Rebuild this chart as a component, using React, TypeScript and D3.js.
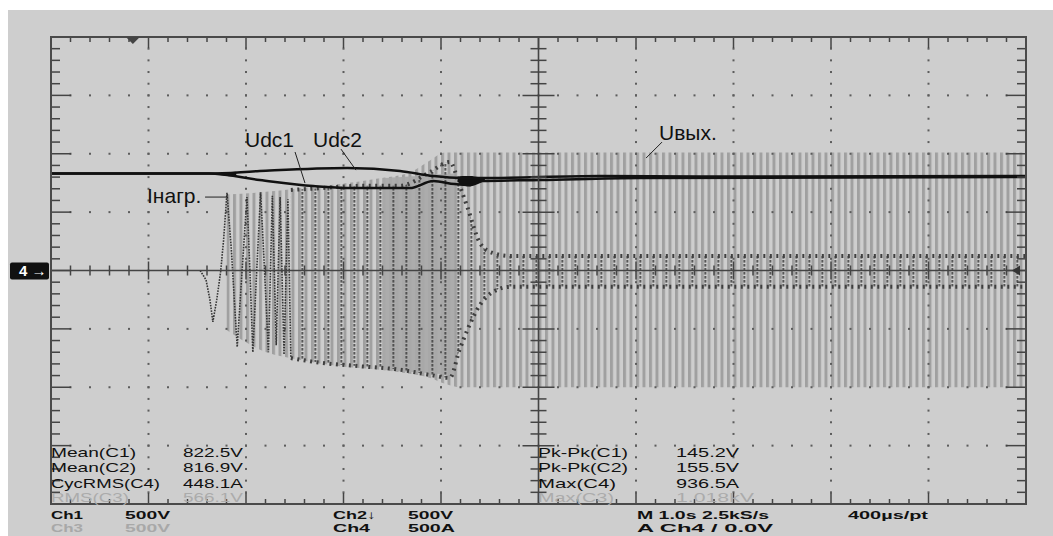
import React, { useRef, useEffect } from "react";
import * as d3 from "d3";

// scope: 1 s/div over 10 div, Ch1..Ch3 500 V/div, Ch4 500 A/div (0 at centre)
const udc1T = [0, 1.62, 2.14, 2.69, 3.07, 3.68, 3.92, 4.14, 4.3, 4.4, 5.02, 6.04, 10];
const udc1V = [830, 830, 775, 723, 706, 706, 766, 740, 732, 766, 775, 792, 800];
const udc2T = [0, 1.62, 2.14, 3.04, 3.58, 3.92, 4.2, 4.4, 5.63, 6.66, 10];
const udc2V = [830, 830, 852, 877, 852, 809, 792, 792, 809, 805, 809];

// dark patches where the two dc traces overlap
const blobT = [4.17, 4.22, 4.3, 4.38, 4.45];
const blobHi = [800, 810, 810, 800, 790];
const blobLo = [760, 730, 720, 740, 770];
const wedgeT = [1.62, 1.75, 1.9];
const wedgeHi = [830, 838, 845];
const wedgeLo = [830, 815, 800];

// output voltage (Ch3) envelope
const uoutT = [1.8, 2.15, 2.55, 2.96, 3.37, 3.68, 3.89, 4.04, 4.2, 10];
const uoutMax = [650, 670, 705, 740, 790, 840, 945, 1010, 1010, 1010];
const uoutMin = [-510, -680, -765, -820, -850, -885, -920, -970, -1000, -1000];

// dense (solid) part of the output voltage
const denseT = [3.4, 3.6, 3.9, 4.14];
const denseMax = [790, 800, 820, 830];
const denseMin = [-850, -865, -880, -900];

// load current (Ch4): first cycles, then envelope
const iEarlyT = [1.53, 1.59, 1.63, 1.66, 1.7, 1.74, 1.77, 1.805, 1.85, 1.88, 1.91, 1.96, 2.01, 2.04, 2.07, 2.11, 2.15, 2.19, 2.23, 2.27, 2.31, 2.35, 2.39, 2.43, 2.46];
const iEarlyA = [0, -80, -250, -440, -250, -10, 260, 665, 175, -250, -655, 0, 630, 0, -700, 0, 670, 0, -700, 640, -640, 630, -720, 610, -750];
const iEnvT = [2.46, 2.76, 3.17, 3.58, 3.89, 4.09, 4.19, 4.27, 4.4, 4.53, 4.71, 5.02, 10];
const iEnvMax = [690, 705, 725, 725, 845, 930, 730, 545, 235, 150, 125, 125, 125];
const iEnvMin = [-750, -790, -820, -850, -895, -920, -680, -510, -295, -185, -140, -140, -140];

const measLeft = ["Mean(C1)", "Mean(C2)", "CycRMS(C4)", "RMS(C3)"];
const measLeftVal = ["822.5V", "816.9V", "448.1A", "566.1V"];
const measRight = ["Pk-Pk(C1)", "Pk-Pk(C2)", "Max(C4)", "Max(C3)"];
const measRightVal = ["145.2V", "155.5V", "936.5A", "1.018kV"];

const FONT = "'Liberation Sans', Arial, sans-serif";

const App = () => {
  const svgRef = useRef(null);

  useEffect(() => {
    const width = 1053;
    const height = 536;
    const m = { left: 51, right: 1026, top: 37, bottom: 504 };
    const svg = d3.select(svgRef.current);
    svg.selectAll("*").remove();
    svg.attr("width", width).attr("height", height);

    const x = d3.scaleLinear().domain([0, 10]).range([m.left, m.right]);
    const y = d3.scaleLinear().domain([-2000, 2000]).range([m.bottom, m.top]);

    svg.append("rect").attr("width", width).attr("height", height).attr("fill", "#fff");
    svg.append("rect").attr("x", 8).attr("y", 10).attr("width", width - 8).attr("height", height - 10).attr("fill", "#cecece");

    const defs = svg.append("defs");
    const pU = defs.append("pattern").attr("id", "uBars").attr("patternUnits", "userSpaceOnUse")
      .attr("x", m.left).attr("width", 6.5).attr("height", 8);
    pU.append("rect").attr("width", 3).attr("height", 8).attr("fill", "#a0a0a0");
    const pI = defs.append("pattern").attr("id", "iBars").attr("patternUnits", "userSpaceOnUse")
      .attr("x", m.left + 3.5).attr("width", 13).attr("height", 4);
    pI.append("rect").attr("width", 1.6).attr("height", 2.6).attr("fill", "#3a3a3a");
    defs.append("clipPath").attr("id", "plotClip").append("rect")
      .attr("x", m.left).attr("y", m.top).attr("width", m.right - m.left).attr("height", m.bottom - m.top);

    const zip3 = (t, hi, lo) => t.map((d, i) => ({ t: d, hi: hi[i], lo: lo[i] }));
    const area = d3.area().x((d) => x(d.t)).y0((d) => y(d.lo)).y1((d) => y(d.hi)).curve(d3.curveMonotoneX);
    const line = d3.line().x((d) => x(d[0])).y((d) => y(d[1])).curve(d3.curveMonotoneX);

    const plot = svg.append("g").attr("clip-path", "url(#plotClip)");

    // output voltage
    plot.append("path").attr("d", area(zip3(uoutT, uoutMax, uoutMin))).attr("fill", "url(#uBars)");
    plot.append("path").attr("d", area(zip3(denseT, denseMax, denseMin))).attr("fill", "#a9a9a9").attr("opacity", 0.9);

    // grid dots
    const dots = plot.append("g").attr("fill", "#5c5c5c");
    const xMinor = d3.range(0, 10.001, 0.2);
    const yMinor = d3.range(-2000, 2000.1, 100);
    [1, 2, 3, 4, 6, 7, 8, 9].forEach((t) => {
      yMinor.forEach((v) => dots.append("rect").attr("x", x(t) - 1).attr("y", y(v) - 1).attr("width", 2).attr("height", 2));
    });
    [-1500, -1000, -500, 500, 1000, 1500].forEach((v) => {
      xMinor.forEach((t) => dots.append("rect").attr("x", x(t) - 1).attr("y", y(v) - 1).attr("width", 2).attr("height", 2));
    });

    // load current
    const iEnv = zip3(iEnvT, iEnvMax, iEnvMin);
    plot.append("path").attr("d", area(iEnv)).attr("fill", "url(#iBars)");
    const edge = d3.line().x((d) => x(d.t)).curve(d3.curveMonotoneX);
    plot.append("path").attr("d", edge.y((d) => y(d.hi))(iEnv)).attr("fill", "none")
      .attr("stroke", "#3f3f3f").attr("stroke-width", 4).attr("stroke-dasharray", "2 4.5");
    plot.append("path").attr("d", edge.y((d) => y(d.lo))(iEnv)).attr("fill", "none")
      .attr("stroke", "#3f3f3f").attr("stroke-width", 4).attr("stroke-dasharray", "2 4.5");
    plot.append("path").attr("d", d3.line().x((d) => x(d[0])).y((d) => y(d[1]))(iEarlyT.map((t, i) => [t, iEarlyA[i]])))
      .attr("fill", "none").attr("stroke", "#353535").attr("stroke-width", 1.6).attr("stroke-dasharray", "1.6 1.2");

    // centre crosshair
    const axes = svg.append("g").attr("stroke", "#444");
    axes.append("line").attr("x1", m.left).attr("x2", m.right).attr("y1", y(0)).attr("y2", y(0)).attr("stroke-width", 1.6);
    axes.append("line").attr("x1", x(5)).attr("x2", x(5)).attr("y1", m.top).attr("y2", m.bottom).attr("stroke-width", 1.6);
    xMinor.forEach((t, i) => {
      const l = i % 5 === 0 ? 9 : 5;
      axes.append("line").attr("x1", x(t)).attr("x2", x(t)).attr("y1", y(0) - l).attr("y2", y(0) + l).attr("stroke-width", 1.5);
      // top / bottom frame ticks
      const f = i % 5 === 0 ? 11 : 5;
      axes.append("line").attr("x1", x(t)).attr("x2", x(t)).attr("y1", m.top).attr("y2", m.top + f).attr("stroke-width", 1.5);
      axes.append("line").attr("x1", x(t)).attr("x2", x(t)).attr("y1", m.bottom).attr("y2", m.bottom - f).attr("stroke-width", 1.5);
    });
    yMinor.forEach((v, i) => {
      const l = i % 5 === 0 ? 16 : 8;
      axes.append("line").attr("x1", x(5) - l).attr("x2", x(5) + l).attr("y1", y(v)).attr("y2", y(v)).attr("stroke-width", 1.5);
      const f = i % 5 === 0 ? 20 : 9;
      axes.append("line").attr("x1", m.left).attr("x2", m.left + f).attr("y1", y(v)).attr("y2", y(v)).attr("stroke-width", 1.5);
      axes.append("line").attr("x1", m.right).attr("x2", m.right - f).attr("y1", y(v)).attr("y2", y(v)).attr("stroke-width", 1.5);
    });
    svg.append("rect").attr("x", m.left).attr("y", m.top).attr("width", m.right - m.left).attr("height", m.bottom - m.top)
      .attr("fill", "none").attr("stroke", "#4a4a4a").attr("stroke-width", 2);

    // dc link voltages
    plot.append("path").attr("d", area(zip3(wedgeT, wedgeHi, wedgeLo))).attr("fill", "#111");
    plot.append("path").attr("d", area(zip3(blobT, blobHi, blobLo))).attr("fill", "#111");
    [[udc1T, udc1V], [udc2T, udc2V]].forEach(([t, v]) => {
      plot.append("path").attr("d", line(t.map((d, i) => [d, v[i]]))).attr("fill", "none")
        .attr("stroke", "#111").attr("stroke-width", 2.5);
    });

    // markers
    svg.append("path").attr("d", `M${x(0.84) - 7},${m.top} L${x(0.84) + 7},${m.top} L${x(0.84)},${m.top + 7} Z`).attr("fill", "#444");
    svg.append("path").attr("d", `M${m.right - 14},${y(0)} L${m.right - 6},${y(0) - 5} L${m.right - 6},${y(0) + 5} Z`).attr("fill", "#333");
    const mk = svg.append("g");
    mk.append("rect").attr("x", 10).attr("y", y(0) - 8).attr("width", 39).attr("height", 17).attr("rx", 2).attr("fill", "#111");
    mk.append("text").attr("x", 19).attr("y", y(0) + 5.5).attr("fill", "#fff").attr("font-family", FONT)
      .attr("font-size", 15).attr("font-weight", "bold").text("4 \u2192");

    // annotations
    const ann = [
      { text: "I\u043d\u0430\u0433\u0440.", t: 0.985, v: 578, l: [[1.58, 629], [1.815, 629]] },
      { text: "Udc1", t: 1.99, v: 1057, l: [[2.503, 1015], [2.605, 749]] },
      { text: "Udc2", t: 2.687, v: 1057, l: [[2.974, 1040], [3.128, 860]] },
      { text: "U\u0432\u044b\u0445.", t: 6.236, v: 1117, l: [[6.267, 1100], [6.103, 963]] },
    ];
    ann.forEach((a) => {
      svg.append("text").attr("x", x(a.t)).attr("y", y(a.v)).attr("font-family", FONT).attr("font-size", 21)
        .attr("fill", "#111").text(a.text);
      svg.append("line").attr("x1", x(a.l[0][0])).attr("y1", y(a.l[0][1])).attr("x2", x(a.l[1][0])).attr("y2", y(a.l[1][1]))
        .attr("stroke", "#222").attr("stroke-width", 1);
    });

    // readouts
    const rows = [457, 472, 487.5, 502];
    const txt = (s, px, py, len, col, bold = false, fs = 13) =>
      svg.append("text").attr("x", px).attr("y", py).attr("font-family", FONT).attr("font-size", fs)
        .attr("font-weight", bold ? "bold" : "normal").attr("fill", col)
        .attr("textLength", len).attr("lengthAdjust", "spacingAndGlyphs").text(s);
    const leftW = [85, 85, 109, 78];
    const rightW = [90, 90, 78, 76];
    rows.forEach((ry, i) => {
      const col = i === 3 ? "#ababab" : "#111";
      txt(measLeft[i], 51, ry, leftW[i], col);
      txt(measLeftVal[i], 183, ry, 60, col);
      txt(measRight[i], 538, ry, rightW[i], col);
      txt(measRightVal[i], 676, ry, i === 3 ? 78 : 63, col);
    });
    const r1 = 518.5;
    const r2 = 532;
    const fs = 11.5;
    txt("Ch1", 51, r1, 32, "#111", true, fs);
    txt("500V", 125, r1, 45, "#111", true, fs);
    txt("Ch3", 51, r2, 32, "#a8a8a8", true, fs);
    txt("500V", 125, r2, 45, "#a8a8a8", true, fs);
    txt("Ch2\u2193", 333, r1, 43, "#111", true, fs);
    txt("500V", 408, r1, 45, "#111", true, fs);
    txt("Ch4", 333, r2, 37, "#111", true, fs);
    txt("500A", 408, r2, 47, "#111", true, fs);
    txt("M 1.0s 2.5kS/s", 637, r1, 132, "#111", true, fs);
    txt("400\u00b5s/pt", 848, r1, 80, "#111", true, fs);
    txt("A  Ch4  /  0.0V", 637, r2, 136, "#111", true, fs);
  }, []);

  return (
    <div style={{ position: "absolute", left: 0, top: 0 }}>
      <svg ref={svgRef} style={{ display: "block" }}></svg>
    </div>
  );
};

export default App;
